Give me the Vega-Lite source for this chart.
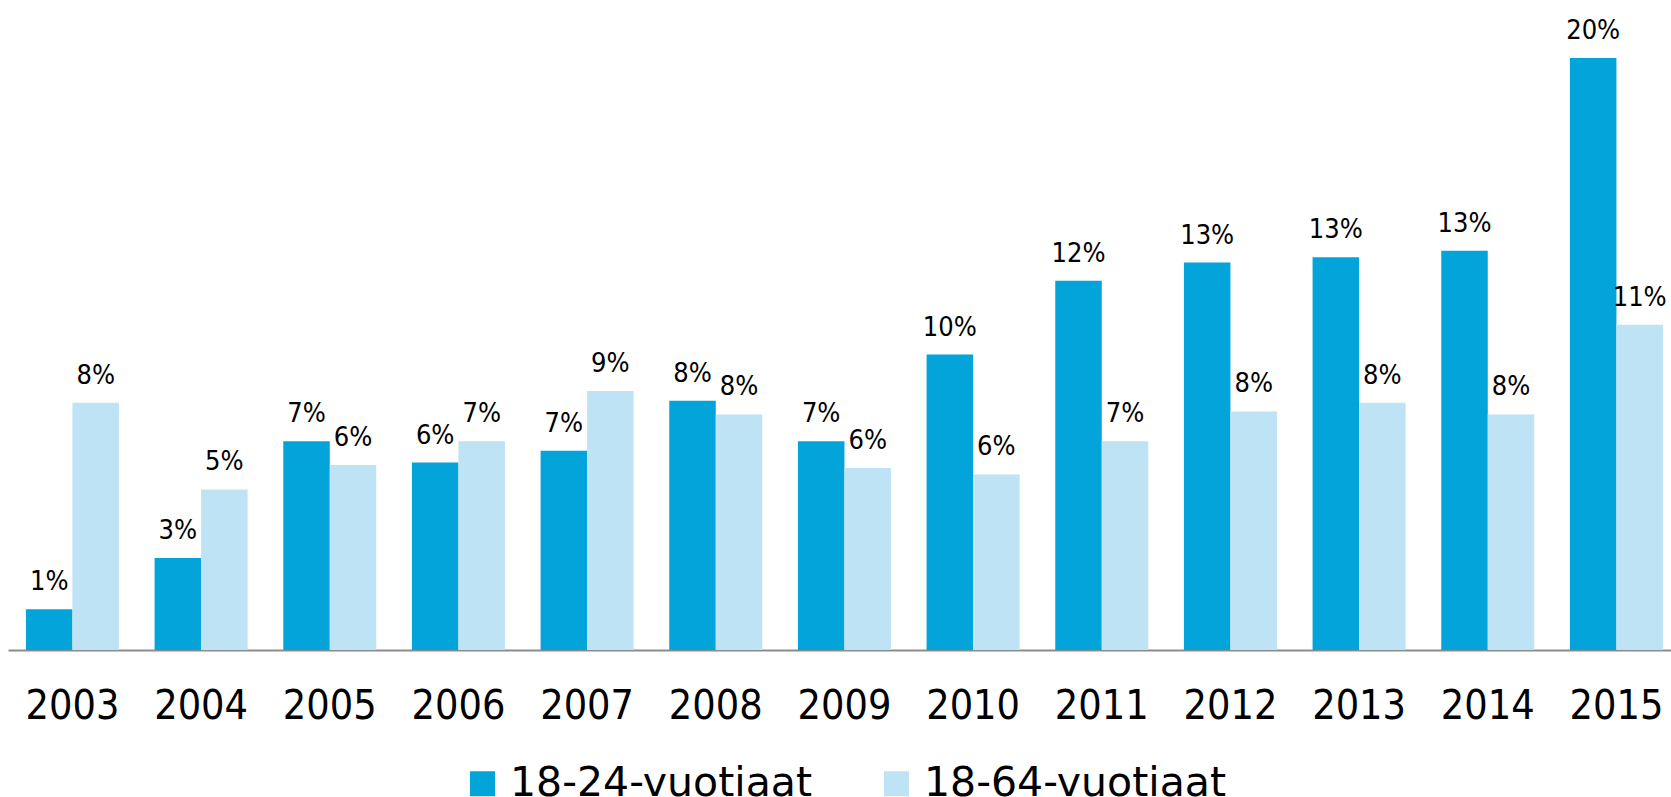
{
  "$schema": "https://vega.github.io/schema/vega-lite/v6.json",
  "width": 1671,
  "height": 797,
  "autosize": {"type": "fit", "contains": "padding"},
  "padding": {"left": 8, "top": 0, "right": 0, "bottom": 71},
  "background": "white",
  "config": {"view": {"stroke": null}, "font": "DejaVu Sans Condensed"},
  "data": {
    "values": [
      {"year": "2003", "group": "18-24-vuotiaat", "value": 1.36, "label": "1%"},
      {"year": "2003", "group": "18-64-vuotiaat", "value": 8.27, "label": "8%"},
      {"year": "2004", "group": "18-24-vuotiaat", "value": 3.08, "label": "3%"},
      {"year": "2004", "group": "18-64-vuotiaat", "value": 5.37, "label": "5%"},
      {"year": "2005", "group": "18-24-vuotiaat", "value": 6.98, "label": "7%"},
      {"year": "2005", "group": "18-64-vuotiaat", "value": 6.19, "label": "6%"},
      {"year": "2006", "group": "18-24-vuotiaat", "value": 6.27, "label": "6%"},
      {"year": "2006", "group": "18-64-vuotiaat", "value": 6.98, "label": "7%"},
      {"year": "2007", "group": "18-24-vuotiaat", "value": 6.66, "label": "7%"},
      {"year": "2007", "group": "18-64-vuotiaat", "value": 8.66, "label": "9%"},
      {"year": "2008", "group": "18-24-vuotiaat", "value": 8.34, "label": "8%"},
      {"year": "2008", "group": "18-64-vuotiaat", "value": 7.88, "label": "8%"},
      {"year": "2009", "group": "18-24-vuotiaat", "value": 6.98, "label": "7%"},
      {"year": "2009", "group": "18-64-vuotiaat", "value": 6.09, "label": "6%"},
      {"year": "2010", "group": "18-24-vuotiaat", "value": 9.88, "label": "10%"},
      {"year": "2010", "group": "18-64-vuotiaat", "value": 5.87, "label": "6%"},
      {"year": "2011", "group": "18-24-vuotiaat", "value": 12.35, "label": "12%"},
      {"year": "2011", "group": "18-64-vuotiaat", "value": 6.98, "label": "7%"},
      {"year": "2012", "group": "18-24-vuotiaat", "value": 12.96, "label": "13%"},
      {"year": "2012", "group": "18-64-vuotiaat", "value": 7.98, "label": "8%"},
      {"year": "2013", "group": "18-24-vuotiaat", "value": 13.14, "label": "13%"},
      {"year": "2013", "group": "18-64-vuotiaat", "value": 8.27, "label": "8%"},
      {"year": "2014", "group": "18-24-vuotiaat", "value": 13.35, "label": "13%"},
      {"year": "2014", "group": "18-64-vuotiaat", "value": 7.88, "label": "8%"},
      {"year": "2015", "group": "18-24-vuotiaat", "value": 19.8, "label": "20%"},
      {"year": "2015", "group": "18-64-vuotiaat", "value": 10.88, "label": "11%"}
    ]
  },
  "encoding": {
    "x": {
      "field": "year",
      "type": "nominal",
      "scale": {"paddingInner": 0.277, "paddingOuter": 0.101, "align": 0.69},
      "axis": {
        "title": null,
        "labelAngle": 0,
        "ticks": false,
        "grid": false,
        "domainColor": "#8c8c8c",
        "domainWidth": 2,
        "labelFont": "DejaVu Sans Condensed",
        "labelFontSize": 41,
        "labelColor": "#000000",
        "labelBaseline": "alphabetic",
        "labelPadding": 68
      }
    },
    "xOffset": {"field": "group", "type": "nominal", "sort": ["18-24-vuotiaat", "18-64-vuotiaat"]},
    "y": {
      "field": "value",
      "type": "quantitative",
      "scale": {"domain": [0, 21.74], "nice": false},
      "axis": null
    }
  },
  "layer": [
    {
      "mark": {"type": "bar"},
      "encoding": {
        "color": {
          "field": "group",
          "type": "nominal",
          "scale": {"domain": ["18-24-vuotiaat", "18-64-vuotiaat"], "range": ["#02a4d9", "#bee3f4"]},
          "legend": {
            "orient": "none",
            "legendX": 454,
            "legendY": 763,
            "direction": "horizontal",
            "title": null,
            "symbolType": "square",
            "symbolSize": 625,
            "symbolStrokeWidth": 0,
            "labelFont": "DejaVu Sans",
            "labelFontSize": 41,
            "labelColor": "#000000",
            "labelOffset": 7,
            "columnPadding": 64,
            "labelLimit": 600
          }
        }
      }
    },
    {
      "mark": {"type": "text", "dy": -19, "baseline": "alphabetic", "fontSize": 27, "font": "DejaVu Sans Condensed", "color": "#000000"},
      "encoding": {"text": {"field": "label", "type": "nominal"}}
    }
  ]
}
